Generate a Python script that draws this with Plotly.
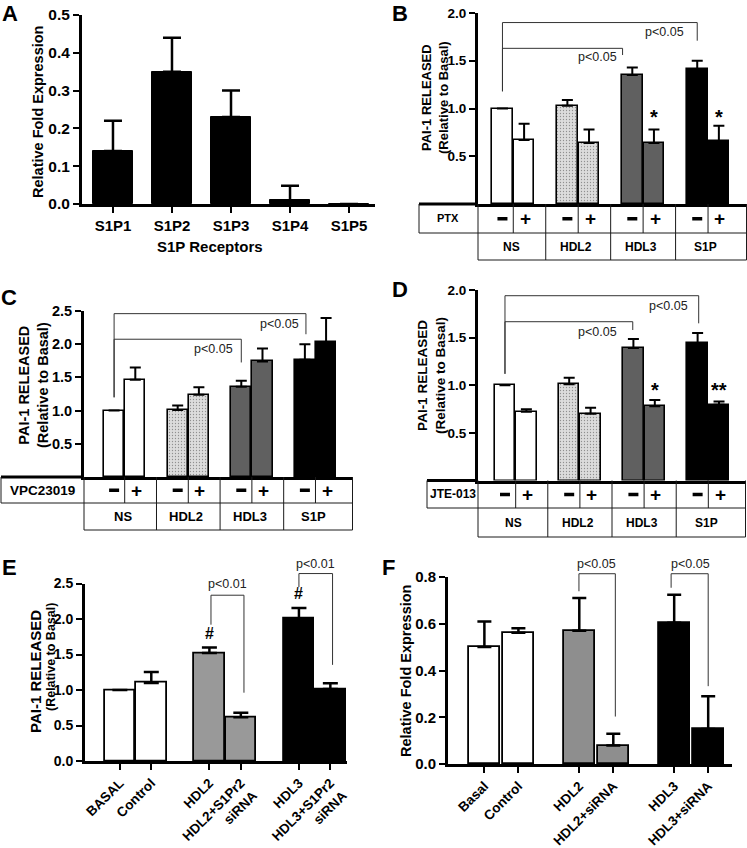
import plotly.graph_objects as go

W, H = 747, 848
FONT = "Liberation Sans, Arial, sans-serif"

# ---------------- data ----------------
a_receptors = ["S1P1", "S1P2", "S1P3", "S1P4", "S1P5"]
a_values = [0.14, 0.35, 0.23, 0.01, 0.0]
a_errors = [0.08, 0.09, 0.07, 0.038, 0.0]

groups = ["NS", "HDL2", "HDL3", "S1P"]

b_minus = [1.0, 1.03, 1.35, 1.41]
b_minus_err = [0.0, 0.06, 0.08, 0.09]
b_plus = [0.67, 0.64, 0.64, 0.66]
b_plus_err = [0.17, 0.14, 0.14, 0.16]
b_marks = ["", "", "*", "*"]

c_minus = [1.0, 1.01, 1.36, 1.765]
c_minus_err = [0.0, 0.065, 0.09, 0.235]
c_plus = [1.465, 1.24, 1.74, 2.03]
c_plus_err = [0.185, 0.11, 0.195, 0.365]

d_minus = [1.0, 1.01, 1.39, 1.444]
d_minus_err = [0.0, 0.07, 0.096, 0.105]
d_plus = [0.722, 0.70, 0.78, 0.795]
d_plus_err = [0.025, 0.064, 0.064, 0.035]
d_marks = ["", "", "*", "**"]

e_labels = ["BASAL", "Control", "HDL2", "HDL2+S1Pr2<br>siRNA", "HDL3", "HDL3+S1Pr2<br>siRNA"]
e_values = [1.0, 1.10, 1.52, 0.615, 2.005, 1.014]
e_errors = [0.0, 0.155, 0.08, 0.065, 0.15, 0.08]
e_marks = ["", "", "#", "", "#", ""]

f_labels = ["Basal", "Control", "HDL2", "HDL2+siRNA", "HDL3", "HDL3+siRNA"]
f_values = [0.50, 0.561, 0.57, 0.079, 0.604, 0.15]
f_errors = [0.11, 0.02, 0.14, 0.05, 0.12, 0.14]

# ---------------- layout geometry (pixels) ----------------
P = {
    "A": dict(ax="", xpx=(82, 375), ypx=(15, 204), xr=(-0.525, 4.44), yr=(0, 0.5)),
    "B": dict(ax="2", xpx=(478, 747), ypx=(13, 204), xr=(-1.13, 11.3), yr=(0, 2)),
    "C": dict(ax="3", xpx=(84, 353), ypx=(311, 477), xr=(-1.42, 11.27), yr=(0, 2.5)),
    "D": dict(ax="4", xpx=(478, 746), ypx=(290, 480.5), xr=(-1.26, 11.26), yr=(0, 2)),
    "E": dict(ax="5", xpx=(85, 347), ypx=(583.5, 761), xr=(-1.11, 7.23), yr=(0, 2.5)),
    "F": dict(ax="6", xpx=(448, 732), ypx=(577, 764), xr=(-1.07, 7.28), yr=(0, 0.8)),
}


def PX(p, xv):
    (a, b), (r0, r1) = P[p]["xpx"], P[p]["xr"]
    return (a + (xv - r0) / (r1 - r0) * (b - a)) / W


def PY(p, yv):
    (t, bt), (r0, r1) = P[p]["ypx"], P[p]["yr"]
    return 1 - (bt - (yv - r0) / (r1 - r0) * (bt - t)) / H


def fx(px):
    return px / W


def fy(py):
    return 1 - py / H


WHITE, LGRAY, DGRAY, BLACK = "#ffffff", "#dcdcdc", "#606060", "#000000"
grp_colors = [WHITE, LGRAY, DGRAY, BLACK]
grp_pattern = dict(shape=["", ".", "", ""], fgcolor="#bdbdbd", size=3, solidity=0.15,
                   fillmode="overlay")

fig = go.Figure()
shapes = []
ann = []


def err(arr, w, th=2):
    return dict(type="data", array=arr, arrayminus=[0] * len(arr), symmetric=False,
                color="black", thickness=th, width=w, visible=True)


def axref(p):
    a = P[p]["ax"]
    return "x" + a, "y" + a


# ---- Panel A ----
xa, ya = axref("A")
fig.add_trace(go.Bar(x=list(range(len(a_values))), y=a_values, width=0.68,
                     marker=dict(color=BLACK, line=dict(color="black", width=1)),
                     error_y=err(a_errors, 9, 2.5), xaxis=xa, yaxis=ya, showlegend=False))

# ---- Panels B, C, D ----
tables = {
    "B": dict(minus=b_minus, me=b_minus_err, plus=b_plus, pe=b_plus_err, label="PTX",
              left=419, top=204, mid=233, bot=260, lfs=11, gfs=12, marks=b_marks, mark_y=0.91),
    "C": dict(minus=c_minus, me=c_minus_err, plus=c_plus, pe=c_plus_err, label="VPC23019",
              left=1, top=477, mid=503, bot=530, lfs=13.5, gfs=13, marks=None, mark_y=0),
    "D": dict(minus=d_minus, me=d_minus_err, plus=d_plus, pe=d_plus_err, label="JTE-013",
              left=427, top=480.5, mid=508, bot=537, lfs=12, gfs=12, marks=d_marks, mark_y=0.95),
}
for p, t in tables.items():
    xa, ya = axref(p)
    n = len(groups)
    fig.add_trace(go.Bar(x=[3 * g for g in range(n)], y=t["minus"], width=0.96,
                         marker=dict(color=grp_colors, line=dict(color="black", width=1.6),
                                     pattern=grp_pattern),
                         error_y=err(t["me"], 5.5), xaxis=xa, yaxis=ya, showlegend=False))
    fig.add_trace(go.Bar(x=[3 * g + 1 for g in range(n)], y=t["plus"], width=0.96,
                         marker=dict(color=grp_colors, line=dict(color="black", width=1.6),
                                     pattern=grp_pattern),
                         error_y=err(t["pe"], 5.5), xaxis=xa, yaxis=ya, showlegend=False))
    r0, r1 = P[p]["xr"]
    xl, xaxp, xr_ = fx(t["left"]), PX(p, r0), PX(p, r1) - 0.5 / W
    yt, ym, yb = fy(t["top"]), fy(t["mid"]), fy(t["bot"])
    line = dict(color="#1a1a1a", width=1)
    shapes.append(dict(type="line", xref="paper", yref="paper", x0=xl, x1=xaxp, y0=yt, y1=yt,
                       line=dict(color="black", width=3)))
    shapes.append(dict(type="line", xref="paper", yref="paper", x0=xl, x1=xr_, y0=ym, y1=ym, line=line))
    shapes.append(dict(type="line", xref="paper", yref="paper", x0=xaxp, x1=xr_, y0=yb, y1=yb, line=line))
    shapes.append(dict(type="line", xref="paper", yref="paper", x0=xl, x1=xl, y0=yt, y1=ym, line=line))
    shapes.append(dict(type="line", xref="paper", yref="paper", x0=xaxp, x1=xaxp, y0=yt, y1=yb, line=line))
    shapes.append(dict(type="line", xref="paper", yref="paper", x0=xr_, x1=xr_, y0=yt, y1=yb, line=line))
    ycell_px = (t["top"] + t["mid"]) / 2
    for g in range(n):
        xs = PX(p, 3 * g + 0.5)
        shapes.append(dict(type="line", xref="paper", yref="paper", x0=xs, x1=xs, y0=yt, y1=ym, line=line))
        if g > 0:
            xg = PX(p, 3 * g - 1)
            shapes.append(dict(type="line", xref="paper", yref="paper", x0=xg, x1=xg, y0=yt, y1=yb, line=line))
        # minus sign: thick short bar
        cx = PX(p, 3 * g) * W
        shapes.append(dict(type="rect", xref="paper", yref="paper", x0=fx(cx - 5), x1=fx(cx + 5),
                           y0=fy(ycell_px + 2), y1=fy(ycell_px - 1.5), fillcolor="black",
                           line=dict(width=0)))
        ann.append(dict(x=PX(p, 3 * g + 1.05), y=fy(ycell_px), text="<b>+</b>", font=dict(size=19)))
        ann.append(dict(x=PX(p, 3 * g + 0.4), y=(ym + yb) / 2, text="<b>%s</b>" % groups[g],
                        font=dict(size=t["gfs"])))
        if t["marks"] and t["marks"][g]:
            ann.append(dict(x=PX(p, 3 * g + 1), y=PY(p, t["mark_y"]), text="<b>%s</b>" % t["marks"][g],
                            font=dict(size=20)))
    ann.append(dict(x=(xl + xaxp) / 2, y=(yt + ym) / 2, text="<b>%s</b>" % t["label"],
                    font=dict(size=t["lfs"])))

# ---- Panel E ----
xa, ya = axref("E")
e_stride = 2.85
e_pos = [(i // 2) * e_stride + (i % 2) for i in range(len(e_values))]
e_colors = [WHITE, WHITE, "#999999", "#999999", BLACK, BLACK]
fig.add_trace(go.Bar(x=e_pos, y=e_values, width=0.97,
                     marker=dict(color=e_colors, line=dict(color="black", width=1.8)),
                     error_y=err(e_errors, 7.5, 2.5), xaxis=xa, yaxis=ya, showlegend=False))
for i, m in enumerate(e_marks):
    if m:
        ann.append(dict(x=PX("E", e_pos[i]), y=PY("E", e_values[i] + e_errors[i] + 0.2),
                        text="<b>#</b>", font=dict(size=16)))

# ---- Panel F ----
xa, ya = axref("F")
f_stride = 2.79
f_pos = [(i // 2) * f_stride + (i % 2) for i in range(len(f_values))]
f_colors = [WHITE, WHITE, "#8e8e8e", "#8e8e8e", BLACK, BLACK]
fig.add_trace(go.Bar(x=f_pos, y=f_values, width=0.92,
                     marker=dict(color=f_colors, line=dict(color="black", width=1.8)),
                     error_y=err(f_errors, 7, 2.5), xaxis=xa, yaxis=ya, showlegend=False))

# ---- significance brackets (panel, x0, x1, ytop, yleft, yright, text, tx, ty) ----
brackets = [
    ("B", 0, 9, 1.90, 1.18, 1.71, "p<0.05", 7.5, 1.80),
    ("B", 0, 5.55, 1.63, 1.18, 1.56, "p<0.05", 4.37, 1.54),
    ("C", 0, 9.05, 2.46, 1.2, 2.15, "p<0.05", 7.78, 2.31),
    ("C", 0, 6, 2.075, 1.2, 1.725, "p<0.05", 4.67, 1.925),
    ("D", 0, 9.05, 1.94, 1.12, 1.65, "p<0.05", 7.66, 1.83),
    ("D", 0, 5.97, 1.667, 1.12, 1.58, "p<0.05", 4.33, 1.555),
    ("E", 2.9, 3.95, 2.335, 1.92, 0.962, "p<0.01", 3.42, 2.49),
    ("E", 5.7, 6.77, 2.64, 2.45, 1.354, "p<0.01", 6.23, 2.77),
    ("F", 2.78, 3.85, 0.814, 0.739, 0.203, "p<0.05", 3.3, 0.855),
    ("F", 5.49, 6.58, 0.814, 0.754, 0.333, "p<0.05", 6.05, 0.855),
]
for p, x0, x1, yt_, yl, yr_, txt, tx, ty in brackets:
    path = "M %f,%f L %f,%f L %f,%f L %f,%f" % (PX(p, x0), PY(p, yl), PX(p, x0), PY(p, yt_),
                                                 PX(p, x1), PY(p, yt_), PX(p, x1), PY(p, yr_))
    shapes.append(dict(type="path", xref="paper", yref="paper", path=path,
                       line=dict(color="#333333", width=1)))
    ann.append(dict(x=PX(p, tx), y=PY(p, ty), text=txt, font=dict(size=12.5, color="#222222")))

# ---- titles / letters ----
ann += [
    dict(x=fx(38), y=fy(112), text="<b>Relative Fold Expression</b>", textangle=-90, font=dict(size=14.5)),
    dict(x=fx(210), y=fy(247), text="<b>S1P Receptors</b>", font=dict(size=15)),
    dict(x=fx(435), y=fy(98), text="<b>PAI-1 RELEASED<br>(Relative to Basal)</b>", textangle=-90,
         font=dict(size=13)),
    dict(x=fx(33), y=fy(385), text="<b>PAI-1 RELEASED<br>(Relative to Basal)</b>", textangle=-90,
         font=dict(size=14.5)),
    dict(x=fx(431), y=fy(375), text="<b>PAI-1 RELEASED<br>(Relative to Basal)</b>", textangle=-90,
         font=dict(size=13.5)),
    dict(x=fx(35), y=fy(672), text="<b>PAI-1 RELEASED</b>", textangle=-90, font=dict(size=15)),
    dict(x=fx(51), y=fy(657), text="<b>(Relative to Basal)</b>", textangle=-90, font=dict(size=12.5)),
    dict(x=fx(406), y=fy(671), text="<b>Relative Fold Expression</b>", textangle=-90, font=dict(size=14.5)),
]
for L, (x, y) in {"A": (10, 14), "B": (400, 14), "C": (9, 297), "D": (400, 289),
                  "E": (9, 567), "F": (388, 567)}.items():
    ann.append(dict(x=fx(x), y=fy(y), text="<b>%s</b>" % L, font=dict(size=22)))

for a in ann:
    a.setdefault("xref", "paper")
    a.setdefault("yref", "paper")
    a.setdefault("showarrow", False)
    a.setdefault("xanchor", "center")
    a.setdefault("yanchor", "middle")
    f = {"family": FONT, "color": "black"}
    f.update(a.get("font", {}))
    a["font"] = f

# ---- axes ----
layout = dict(width=W, height=H, margin=dict(l=0, r=0, t=0, b=0), paper_bgcolor="white",
              plot_bgcolor="rgba(0,0,0,0)", font=dict(family=FONT, color="black"),
              bargap=0, shapes=shapes, annotations=ann)

yt_cfg = {
    "A": dict(tickvals=[0, 0.1, 0.2, 0.3, 0.4, 0.5], fmt="%.1f", fs=15.5),
    "B": dict(tickvals=[0.5, 1.0, 1.5, 2.0], fmt="%.1f", fs=13.5),
    "C": dict(tickvals=[0.5, 1.0, 1.5, 2.0, 2.5], fmt="%.1f", fs=14.5),
    "D": dict(tickvals=[0.5, 1.0, 1.5, 2.0], fmt="%.1f", fs=13.5),
    "E": dict(tickvals=[0, 0.5, 1.0, 1.5, 2.0, 2.5], fmt="%.1f", fs=14),
    "F": dict(tickvals=[0, 0.2, 0.4, 0.6, 0.8], fmt="%.1f", fs=15),
}
xt_cfg = {
    "A": dict(tickvals=list(range(len(a_receptors))), ticktext=a_receptors, angle=0, ticks="outside", fs=15),
    "B": dict(tickvals=[], ticktext=[], angle=0, ticks="", fs=12),
    "C": dict(tickvals=[], ticktext=[], angle=0, ticks="", fs=12),
    "D": dict(tickvals=[], ticktext=[], angle=0, ticks="", fs=12),
    "E": dict(tickvals=e_pos, ticktext=e_labels, angle=-45, ticks="outside", fs=13.5),
    "F": dict(tickvals=f_pos, ticktext=f_labels, angle=-45, ticks="outside", fs=13.5),
}
for p, g in P.items():
    a = g["ax"]
    xname = "xaxis" + a
    yname = "yaxis" + a
    xc, yc = xt_cfg[p], yt_cfg[p]
    layout[xname] = dict(domain=[g["xpx"][0] / W, g["xpx"][1] / W], range=list(g["xr"]),
                         anchor="y" + a, showgrid=False, zeroline=False, showline=True,
                         linecolor="black", linewidth=3, tickmode="array",
                         tickvals=xc["tickvals"], ticktext=xc["ticktext"], tickangle=xc["angle"],
                         ticks=xc["ticks"], ticklen=6, tickwidth=2, tickcolor="black",
                         tickfont=dict(family=FONT, size=xc["fs"], color="black", weight="bold"),
                         automargin=False, fixedrange=True)
    layout[yname] = dict(domain=[1 - g["ypx"][1] / H, 1 - g["ypx"][0] / H], range=list(g["yr"]),
                         anchor="x" + a, showgrid=False, zeroline=False, showline=True,
                         linecolor="black", linewidth=3, tickmode="array",
                         tickvals=yc["tickvals"], ticktext=[yc["fmt"] % v for v in yc["tickvals"]],
                         ticks="outside", ticklen=6, tickwidth=2, tickcolor="black",
                         tickfont=dict(family=FONT, size=yc["fs"], color="black", weight="bold"),
                         automargin=False, fixedrange=True)

fig.update_layout(**layout)
fig.write_html("out.html", config={"displayModeBar": False},
               post_script="document.body.style.margin='0';document.body.style.overflow='hidden';")
